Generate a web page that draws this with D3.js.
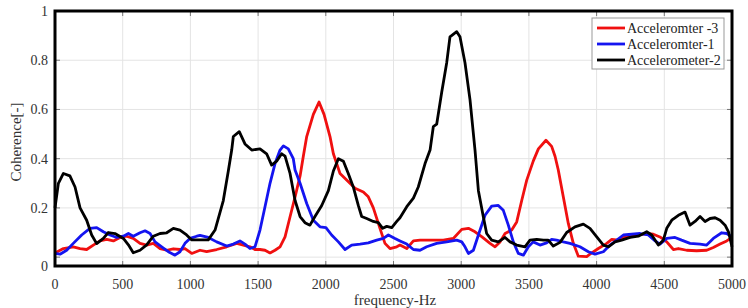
<!DOCTYPE html>
<html lang="en">
<head>
<meta charset="UTF-8">
<title>Coherence</title>
<script src="https://d3js.org/d3.v7.min.js"></script>
<style>
    body { margin: 0; padding: 0; background: #fff; }
    svg { display: block; }
    svg text { font-family: "Liberation Serif", "Times New Roman", "DejaVu Serif", serif; }
    .grid line { stroke: #e4e4e4; stroke-width: 1; }
    .tick-label { font-size: 14px; fill: #333; }
</style>
</head>
<body>
<svg id="chart"></svg>
<script>
    // frequency (Hz) / coherence pairs
    const accel3 = [
        [0,0.017],[62,0.035],[135,0.042],[185,0.035],[234,0.031],[283,0.049],[332,0.066],[382,0.072],
        [431,0.066],[480,0.08],[529,0.085],[578,0.076],[628,0.056],[677,0.049],[726,0.056],[776,0.035],
        [825,0.028],[874,0.034],[923,0.031],[960,0.035],[1010,0.015],[1071,0.028],[1120,0.022],[1194,0.031],
        [1268,0.042],[1342,0.056],[1391,0.049],[1440,0.042],[1477,0.031],[1514,0.031],[1551,0.028],[1588,0.017],
        [1625,0.028],[1662,0.042],[1699,0.082],[1736,0.164],[1773,0.245],[1810,0.33],[1834,0.41],[1859,0.49],
        [1908,0.58],[1950,0.63],[1987,0.58],[2031,0.49],[2056,0.42],[2105,0.34],[2154,0.313],[2216,0.28],
        [2277,0.265],[2314,0.245],[2351,0.2],[2400,0.117],[2437,0.056],[2474,0.035],[2524,0.042],[2548,0.049],
        [2598,0.035],[2647,0.066],[2696,0.069],[2770,0.069],[2868,0.069],[2942,0.076],[3004,0.113],[3053,0.117],
        [3102,0.103],[3151,0.083],[3213,0.056],[3250,0.042],[3287,0.062],[3324,0.096],[3373,0.11],[3410,0.143],
        [3447,0.23],[3484,0.313],[3532,0.39],[3570,0.44],[3626,0.475],[3668,0.45],[3693,0.41],[3717,0.354],
        [3754,0.245],[3791,0.137],[3828,0.056],[3865,0.004],[3927,0.002],[3951,0.012],[4013,0.035],[4075,0.056],
        [4112,0.072],[4161,0.069],[4198,0.08],[4247,0.082],[4308,0.09],[4370,0.096],[4419,0.093],[4468,0.082],
        [4518,0.062],[4567,0.031],[4604,0.035],[4665,0.028],[4739,0.026],[4813,0.028],[4862,0.039],[4912,0.053],
        [4961,0.066],[5000,0.08]
    ];
    const accel1 = [
        [0,0.015],[37,0.012],[86,0.028],[135,0.056],[197,0.09],[258,0.117],[308,0.12],[357,0.103],
        [406,0.09],[456,0.08],[505,0.085],[542,0.096],[578,0.085],[628,0.099],[665,0.107],[702,0.096],
        [739,0.062],[788,0.042],[837,0.022],[886,0.008],[923,0.022],[960,0.056],[997,0.076],[1047,0.085],
        [1071,0.088],[1132,0.08],[1194,0.062],[1268,0.045],[1317,0.053],[1366,0.066],[1403,0.053],[1440,0.035],
        [1477,0.042],[1514,0.11],[1551,0.205],[1588,0.3],[1625,0.38],[1662,0.435],[1687,0.452],[1723,0.44],
        [1760,0.4],[1773,0.354],[1810,0.3],[1859,0.218],[1908,0.15],[1957,0.123],[2001,0.12],[2043,0.09],
        [2093,0.062],[2142,0.031],[2191,0.049],[2253,0.053],[2314,0.058],[2376,0.069],[2425,0.076],[2462,0.09],
        [2511,0.076],[2548,0.066],[2598,0.053],[2647,0.031],[2696,0.028],[2745,0.042],[2819,0.056],[2893,0.062],
        [2967,0.069],[3004,0.062],[3028,0.042],[3053,0.015],[3090,0.028],[3127,0.09],[3176,0.17],[3225,0.207],
        [3274,0.21],[3311,0.19],[3348,0.13],[3385,0.062],[3422,0.015],[3459,0.008],[3496,0.042],[3532,0.062],
        [3582,0.049],[3631,0.058],[3668,0.072],[3705,0.069],[3754,0.062],[3803,0.056],[3877,0.042],[3939,0.022],
        [3988,0.012],[4050,0.022],[4099,0.049],[4149,0.069],[4198,0.09],[4259,0.093],[4321,0.096],[4382,0.09],
        [4432,0.066],[4468,0.053],[4518,0.076],[4579,0.08],[4628,0.069],[4690,0.056],[4764,0.053],[4813,0.049],
        [4862,0.076],[4924,0.099],[4961,0.096],[5000,0.082]
    ];
    const accel2 = [
        [0,0.2],[25,0.3],[62,0.34],[110,0.33],[148,0.285],[185,0.2],[234,0.15],[271,0.09],
        [308,0.055],[357,0.076],[394,0.1],[443,0.096],[505,0.076],[542,0.05],[578,0.018],[628,0.028],
        [677,0.05],[726,0.085],[776,0.096],[825,0.099],[874,0.117],[923,0.11],[972,0.09],[1010,0.07],
        [1071,0.07],[1132,0.07],[1182,0.11],[1243,0.23],[1280,0.35],[1305,0.435],[1317,0.49],[1361,0.51],
        [1403,0.46],[1453,0.435],[1514,0.44],[1563,0.42],[1600,0.374],[1637,0.39],[1674,0.42],[1699,0.41],
        [1736,0.34],[1773,0.23],[1810,0.165],[1846,0.14],[1883,0.13],[1920,0.165],[1970,0.21],[2019,0.27],
        [2056,0.35],[2093,0.4],[2130,0.39],[2166,0.34],[2203,0.285],[2240,0.21],[2265,0.165],[2302,0.157],
        [2351,0.145],[2388,0.14],[2420,0.117],[2450,0.125],[2487,0.12],[2524,0.145],[2548,0.16],[2598,0.205],
        [2647,0.24],[2683,0.285],[2733,0.38],[2770,0.435],[2794,0.53],[2819,0.54],[2856,0.67],[2893,0.79],
        [2917,0.895],[2967,0.916],[2991,0.895],[3028,0.79],[3065,0.64],[3102,0.435],[3127,0.27],[3163,0.165],
        [3188,0.096],[3225,0.069],[3274,0.062],[3324,0.08],[3361,0.062],[3410,0.049],[3471,0.042],[3508,0.069],
        [3558,0.072],[3607,0.069],[3643,0.069],[3680,0.045],[3730,0.06],[3779,0.1],[3840,0.123],[3902,0.134],
        [3951,0.117],[4001,0.082],[4050,0.049],[4087,0.042],[4136,0.062],[4185,0.069],[4247,0.08],[4308,0.085],
        [4370,0.103],[4407,0.09],[4456,0.049],[4493,0.069],[4518,0.117],[4555,0.15],[4604,0.17],[4653,0.183],
        [4690,0.13],[4727,0.145],[4764,0.165],[4801,0.145],[4838,0.157],[4875,0.16],[4912,0.15],[4949,0.13],
        [4974,0.103],[5000,0.042]
    ];

    const xTicks = [0, 500, 1000, 1500, 2000, 2500, 3000, 3500, 4000, 4500, 5000];
    const yTicks = [0, 0.2, 0.4, 0.6, 0.8, 1];
    const seriesNames = ["Acceleromter -3", "Acceleromter-1", "Accelerometer-2"];
    const seriesColors = ["#f01010", "#1414f0", "#000000"];

    const W = 748, H = 308;
    const pLeft = 55, pRight = 732, pTop = 11, pBottom = 266;

    const svg = d3.select("#chart").attr("width", W).attr("height", H);

    const x = d3.scaleLinear().domain([0, 5000]).range([pLeft, pRight]);
    const y = d3.scaleLinear().domain([-0.036, 1]).range([pBottom, pTop]);

    // grid
    const grid = svg.append("g").attr("class", "grid");
    grid.selectAll(".gx").data(xTicks.slice(1, -1)).join("line")
        .attr("x1", d => x(d)).attr("x2", d => x(d))
        .attr("y1", pTop).attr("y2", pBottom);
    grid.selectAll(".gy").data(yTicks.slice(0, -1)).join("line")
        .attr("x1", pLeft).attr("x2", pRight)
        .attr("y1", d => y(d)).attr("y2", d => y(d));

    // inward tick marks on all four sides
    const tk = svg.append("g").attr("stroke", "#777").attr("stroke-width", 1);
    xTicks.forEach(t => {
        tk.append("line").attr("x1", x(t)).attr("x2", x(t)).attr("y1", pBottom).attr("y2", pBottom - 5);
        tk.append("line").attr("x1", x(t)).attr("x2", x(t)).attr("y1", pTop).attr("y2", pTop + 5);
    });
    yTicks.forEach(t => {
        tk.append("line").attr("x1", pLeft).attr("x2", pLeft + 5).attr("y1", y(t)).attr("y2", y(t));
        tk.append("line").attr("x1", pRight).attr("x2", pRight - 5).attr("y1", y(t)).attr("y2", y(t));
    });

    // lines
    const line = d3.line().x(d => x(d[0])).y(d => y(d[1]));
    [accel3, accel1, accel2].forEach((s, i) => {
        svg.append("path")
            .datum(s)
            .attr("fill", "none")
            .attr("stroke", seriesColors[i])
            .attr("stroke-width", 2.8)
            .attr("stroke-linejoin", "round")
            .attr("d", line);
    });

    // frame
    svg.append("rect")
        .attr("x", pLeft).attr("y", pTop)
        .attr("width", pRight - pLeft).attr("height", pBottom - pTop)
        .attr("fill", "none").attr("stroke", "#000").attr("stroke-width", 3);

    // tick labels
    svg.selectAll(".xl").data(xTicks).join("text")
        .attr("class", "tick-label")
        .attr("x", d => x(d)).attr("y", 289)
        .attr("text-anchor", "middle")
        .text(d => d);
    svg.selectAll(".yl").data(yTicks).join("text")
        .attr("class", "tick-label")
        .attr("x", 48).attr("y", d => (d === 0 ? pBottom : y(d)) + 5)
        .attr("text-anchor", "end")
        .text(d => d);

    // axis titles
    svg.append("text")
        .attr("x", 395).attr("y", 305)
        .attr("text-anchor", "middle")
        .style("font-size", "15px").style("fill", "#333")
        .text("frequency-Hz");
    svg.append("text")
        .attr("transform", "translate(21,142) rotate(-90)")
        .attr("text-anchor", "middle")
        .style("font-size", "15px").style("fill", "#333")
        .text("Coherence[-]");

    // legend
    const lg = svg.append("g");
    lg.append("rect")
        .attr("x", 592).attr("y", 18).attr("width", 132).attr("height", 51)
        .attr("fill", "#fff").attr("stroke", "#999").attr("stroke-width", 1);
    seriesNames.forEach((name, i) => {
        const yy = 28 + i * 16;
        lg.append("line")
            .attr("x1", 597).attr("x2", 625).attr("y1", yy).attr("y2", yy)
            .attr("stroke", seriesColors[i]).attr("stroke-width", 2.8);
        lg.append("text")
            .attr("x", 627).attr("y", yy + 5)
            .style("font-size", "14px").style("fill", "#222")
            .text(name);
    });
</script>
</body>
</html>
